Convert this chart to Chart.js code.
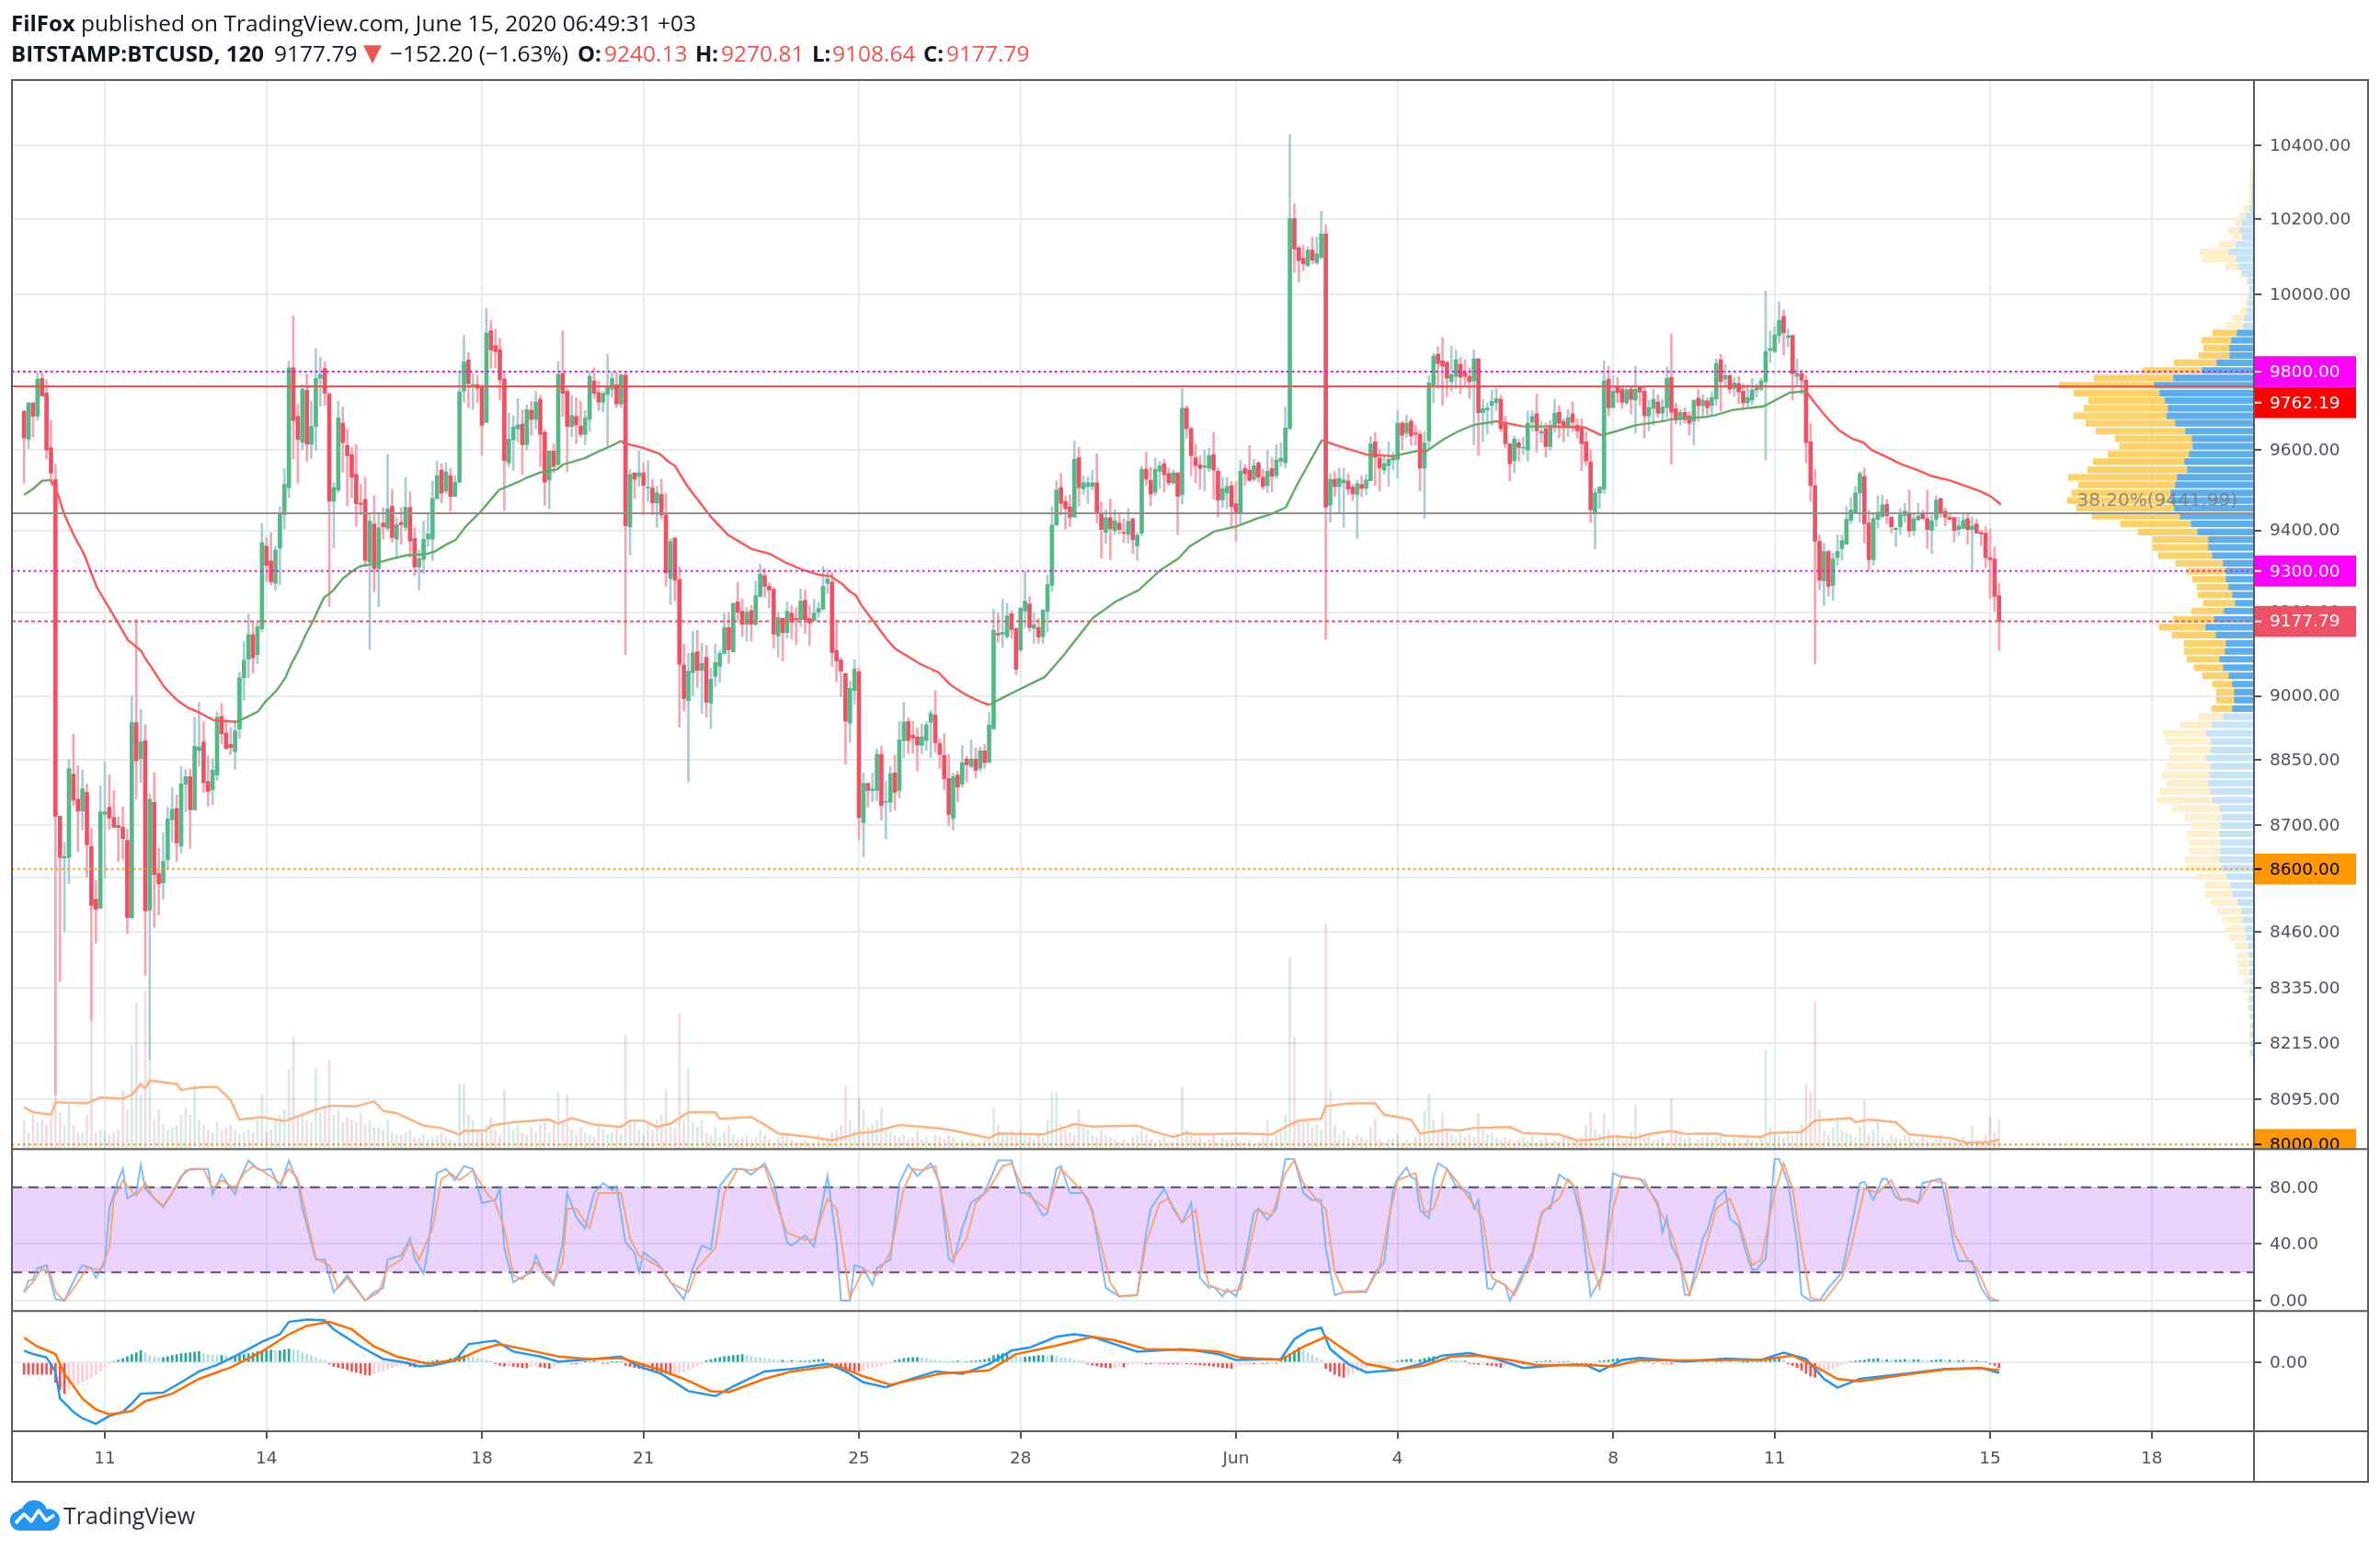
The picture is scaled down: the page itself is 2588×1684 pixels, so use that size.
<!DOCTYPE html>
<html><head><meta charset="utf-8">
<style>
html,body{margin:0;padding:0;background:#fff;width:2588px;height:1684px;overflow:hidden}
#c{position:absolute;left:0;top:0}
.t{position:absolute;font-family:"Open Sans",sans-serif;font-size:24.5px;color:#131722;white-space:nowrap;line-height:28px}
.b{font-weight:700;font-size:24px}.r{color:#ef5350}
</style></head><body>
<canvas id="c" width="2588" height="1684"></canvas>
<div class="t" style="left:12px;top:11px"><span class="b">FilFox</span> published on TradingView.com, June 15, 2020 06:49:31 +03</div>
<div class="t b" style="left:12px;top:44px">BITSTAMP:BTCUSD, 120</div>
<div class="t" style="left:298px;top:44px">9177.79</div>
<div class="t r" style="left:395px;top:43px;font-size:26px;font-family:'DejaVu Sans'">▼</div>
<div class="t" style="left:424px;top:44px">−152.20 (−1.63%)</div>
<div class="t b" style="left:628px;top:44px">O:</div><div class="t r" style="left:657px;top:44px">9240.13</div>
<div class="t b" style="left:756px;top:44px">H:</div><div class="t r" style="left:784px;top:44px">9270.81</div>
<div class="t b" style="left:883px;top:44px">L:</div><div class="t r" style="left:905px;top:44px">9108.64</div>
<div class="t b" style="left:1004px;top:44px">C:</div><div class="t r" style="left:1029px;top:44px">9177.79</div>
<svg style="position:absolute;left:11px;top:1631px" width="54" height="33" viewBox="0 0 54 33"><path fill="#2196f3" d="M11 33C4 33 0 28 0 22c0-5 3-9 8-10 1-2 3-3 5-3 2-5 7-9 13-9 7 0 12 4 14 10 2-1 4-1 5 0 5 1 9 6 9 11 0 7-5 12-11 12z"/><path fill="none" stroke="#fff" stroke-width="3.5" stroke-linejoin="round" d="M6 25l9-10 8 8 8-12 8 11 9-6"/></svg>
<div class="t" style="left:69px;top:1633px;font-size:25px;color:#2a2e39">TradingView</div>
<script src="https://cdn.jsdelivr.net/npm/chart.js@4/dist/chart.umd.min.js"></script>
<script>
const opens=[9698,9628,9720,9686,9783,9745,9606,9526,8720,8625,
8626,8817,8759,8732,8775,8651,8532,8512,8724,8741,
8717,8699,8695,8665,8491,8937,8853,8895,8508,8752,
8590,8569,8621,8712,8738,8652,8794,8811,8735,8872,
8892,8800,8781,8815,8952,8913,8886,8869,8922,9043,
9087,9146,9098,9160,9361,9325,9270,9356,9439,9506,
9810,9686,9620,9752,9615,9660,9783,9808,9743,9472,
9500,9668,9612,9589,9539,9468,9477,9321,9416,9306,
9418,9405,9460,9378,9420,9407,9457,9380,9310,9328,
9378,9378,9479,9550,9498,9536,9484,9520,9750,9830,
9762,9767,9762,9670,9906,9867,9857,9781,9568,9626,
9654,9666,9614,9701,9678,9729,9645,9525,9598,9564,
9795,9750,9660,9685,9661,9640,9678,9776,9746,9722,
9741,9755,9766,9717,9791,9409,9543,9534,9543,9505,
9505,9468,9489,9438,9282,9381,9279,9073,8989,9055,
9105,9061,9092,8983,9046,9070,9101,9163,9105,9225,
9202,9171,9204,9171,9238,9289,9263,9256,9143,9185,
9151,9198,9185,9182,9229,9185,9180,9200,9207,9270,
9273,9108,9085,9053,8936,9013,9057,8706,8796,8779,
8779,8863,8752,8752,8820,8779,8895,8940,8908,8904,
8884,8895,8938,8955,8888,8861,8807,8715,8815,8794,
8852,8835,8852,8831,8871,8844,8923,9149,9147,9141,
9196,9161,9109,9203,9220,9161,9163,9141,9202,9265,
9413,9506,9472,9458,9433,9581,9503,9509,9509,9518,
9440,9395,9431,9399,9418,9395,9390,9429,9362,9393,
9552,9524,9495,9547,9566,9541,9518,9543,9488,9706,
9654,9581,9563,9557,9554,9589,9547,9475,9493,9511,
9466,9442,9554,9550,9527,9568,9532,9511,9554,9536,
9572,9568,9654,10202,10124,10096,10077,10118,10084,10098,
10161,9462,9527,9509,9518,9523,9507,9489,9514,9504,
9523,9621,9580,9550,9561,9575,9577,9668,9643,9673,
9644,9640,9555,9623,9764,9845,9828,9824,9774,9788,
9819,9798,9788,9776,9833,9695,9702,9713,9720,9729,
9666,9616,9573,9619,9605,9600,9671,9692,9643,9654,
9609,9659,9696,9673,9659,9692,9663,9654,9621,9570,
9442,9493,9502,9781,9708,9762,9755,9720,9755,9727,
9762,9750,9687,9706,9722,9694,9708,9785,9705,9684,
9696,9687,9673,9732,9713,9725,9713,9730,9831,9781,
9790,9757,9769,9750,9720,9727,9753,9755,9774,9855,
9852,9893,9943,9888,9893,9788,9795,9778,9621,9511,
9373,9276,9348,9265,9333,9355,9366,9425,9445,9493,
9534,9418,9328,9427,9434,9465,9433,9402,9409,9436,
9440,9400,9426,9440,9429,9400,9427,9479,9447,9432,
9432,9402,9405,9429,9402,9416,9395,9393,9333,9330,
9240.13];
const highs=[9702,9720,9722,9799,9796,9779,9675,9565,8720,8661,
8851,8911,8837,8826,8795,8692,8574,8790,8846,8815,
8779,8719,8742,8692,8999,9183,8968,8933,8772,8821,
8648,8683,8740,8785,8769,8835,8828,8829,8950,8984,
8939,8860,8853,8963,8982,8945,8926,8941,9056,9129,
9195,9176,9176,9417,9382,9395,9361,9458,9554,9827,
9945,9716,9767,9793,9725,9860,9838,9826,9743,9519,
9725,9710,9654,9608,9614,9516,9532,9441,9486,9441,
9457,9589,9502,9432,9457,9532,9495,9407,9351,9423,
9440,9523,9573,9566,9568,9554,9536,9798,9894,9849,
9795,9791,9767,9965,9933,9910,9886,9798,9694,9687,
9731,9703,9715,9724,9750,9739,9652,9598,9616,9826,
9905,9757,9739,9734,9724,9701,9800,9810,9776,9750,
9845,9798,9798,9795,9800,9552,9543,9598,9568,9573,
9527,9509,9527,9491,9380,9381,9311,9123,9101,9154,
9156,9125,9121,9066,9123,9108,9198,9200,9222,9273,
9231,9211,9216,9276,9317,9307,9272,9260,9200,9187,
9225,9216,9211,9256,9254,9216,9231,9225,9311,9304,
9296,9182,9092,9053,9035,9086,9066,8820,8796,8820,
8876,8882,8801,8835,8861,8940,8985,8949,8940,8925,
8934,8940,8966,9013,8899,8912,8863,8820,8824,8884,
8859,8897,8878,8880,8886,8961,9207,9198,9231,9222,
9204,9161,9210,9299,9238,9199,9185,9207,9290,9458,
9523,9541,9486,9488,9623,9609,9536,9534,9550,9591,
9470,9451,9478,9451,9440,9429,9454,9429,9393,9559,
9595,9557,9580,9572,9577,9555,9550,9543,9757,9713,
9659,9616,9586,9600,9605,9645,9557,9532,9532,9521,
9521,9575,9563,9612,9577,9572,9552,9600,9581,9614,
9618,9710,10430,10242,10129,10131,10128,10153,10153,10222,
10185,9541,9546,9555,9555,9541,9514,9525,9536,9539,
9635,9645,9600,9584,9621,9595,9701,9673,9689,9680,
9663,9649,9647,9790,9847,9864,9888,9826,9866,9855,
9836,9831,9810,9857,9833,9729,9720,9753,9757,9741,
9687,9616,9635,9628,9633,9699,9699,9743,9673,9668,
9675,9729,9713,9680,9703,9722,9680,9680,9647,9602,
9504,9509,9829,9814,9790,9786,9762,9762,9762,9814,
9764,9762,9727,9755,9741,9729,9812,9898,9719,9703,
9708,9698,9727,9755,9741,9734,9748,9833,9845,9819,
9793,9786,9788,9769,9767,9783,9769,9783,10010,9905,
9916,9981,9960,9912,9895,9833,9805,9790,9668,9552,
9389,9368,9350,9344,9389,9389,9459,9481,9509,9546,
9555,9450,9442,9486,9488,9477,9433,9407,9454,9467,
9500,9440,9467,9450,9500,9442,9486,9479,9456,9442,
9433,9433,9442,9440,9433,9427,9400,9409,9404,9360,
9270.81];
const lows=[9517,9604,9634,9676,9738,9578,9513,8105,8350,8460,
8567,8745,8640,8688,8582,8265,8434,8512,8580,8689,
8695,8617,8622,8455,8488,8759,8797,8363,8180,8469,
8497,8532,8598,8661,8617,8635,8730,8646,8735,8835,
8775,8744,8746,8802,8888,8874,8862,8828,8900,8990,
9043,9054,9076,9153,9274,9266,9253,9267,9403,9481,
9578,9517,9601,9573,9578,9599,9712,9713,9214,9357,
9494,9544,9460,9481,9410,9438,9311,9110,9249,9213,
9378,9398,9371,9329,9366,9400,9333,9289,9254,9293,
9360,9326,9477,9468,9491,9447,9484,9520,9722,9708,
9703,9720,9586,9670,9809,9810,9727,9449,9557,9548,
9621,9539,9600,9638,9654,9559,9462,9453,9543,9559,
9685,9545,9633,9616,9633,9614,9647,9731,9701,9696,
9611,9734,9708,9708,9098,9339,9479,9509,9438,9471,
9438,9407,9429,9263,9218,9229,8927,8964,8799,9000,
9020,8959,8949,8923,9022,9033,9101,9077,9105,9178,
9141,9130,9130,9167,9236,9236,9211,9114,9092,9083,
9138,9136,9123,9165,9149,9121,9178,9187,9207,9245,
9070,9033,8998,8841,8891,8981,8666,8627,8741,8754,
8756,8711,8668,8730,8734,8762,8856,8865,8865,8824,
8865,8872,8856,8867,8831,8781,8698,8688,8754,8787,
8799,8831,8809,8824,8831,8844,8921,9128,9116,9136,
9137,9050,9105,9163,9154,9125,9125,9125,9152,9250,
9413,9438,9404,9410,9433,9460,9489,9466,9500,9418,
9332,9368,9328,9390,9390,9370,9368,9343,9326,9386,
9511,9460,9486,9504,9495,9511,9514,9390,9465,9630,
9536,9518,9502,9498,9546,9477,9432,9456,9454,9409,
9373,9415,9511,9522,9522,9520,9502,9493,9495,9529,
9559,9554,9654,10058,10033,10063,10074,10082,10080,10094,
9135,9420,9484,9444,9407,9489,9473,9380,9484,9489,
9523,9511,9498,9539,9509,9550,9530,9600,9633,9612,
9612,9498,9429,9600,9720,9757,9713,9736,9750,9757,
9743,9762,9731,9614,9588,9621,9640,9663,9701,9647,
9607,9523,9543,9573,9589,9573,9647,9595,9619,9582,
9600,9645,9631,9621,9635,9647,9631,9548,9561,9420,
9354,9454,9491,9687,9708,9720,9706,9715,9692,9643,
9715,9630,9649,9663,9682,9673,9682,9564,9666,9663,
9668,9638,9614,9673,9682,9689,9689,9713,9699,9760,
9743,9736,9718,9703,9710,9715,9734,9750,9575,9824,
9848,9873,9843,9864,9727,9764,9741,9568,9472,9077,
9254,9216,9238,9229,9313,9327,9366,9416,9442,9420,
9368,9300,9314,9405,9432,9416,9393,9360,9389,9420,
9384,9387,9424,9429,9355,9344,9409,9432,9411,9427,
9371,9387,9404,9366,9304,9393,9362,9309,9234,9202,
9108.64];
const closes=[9631,9720,9686,9781,9738,9600,9542,8720,8626,8628,
8830,8757,8732,8783,8655,8518,8510,8730,8730,8716,
8695,8694,8669,8491,8937,8848,8892,8506,8759,8588,
8567,8617,8714,8736,8659,8794,8811,8735,8882,8880,
8797,8777,8826,8950,8911,8877,8879,8918,9043,9085,
9146,9091,9165,9370,9314,9274,9352,9440,9514,9810,
9675,9627,9755,9615,9660,9783,9793,9745,9472,9506,
9682,9619,9586,9532,9466,9464,9326,9423,9306,9407,
9409,9453,9382,9414,9414,9457,9373,9310,9330,9378,
9391,9479,9536,9493,9545,9484,9520,9748,9825,9769,
9767,9757,9663,9900,9856,9852,9779,9574,9628,9659,
9664,9614,9703,9678,9722,9640,9520,9598,9559,9793,
9744,9660,9688,9664,9640,9682,9788,9744,9722,9744,
9762,9783,9717,9791,9411,9539,9527,9543,9511,9507,
9468,9493,9438,9296,9373,9278,9075,8994,9059,9103,
9061,9077,8985,9040,9079,9101,9163,9110,9222,9200,
9171,9200,9171,9240,9293,9263,9254,9147,9187,9151,
9202,9176,9182,9227,9182,9174,9198,9209,9263,9281,
9103,9083,9059,8940,9018,9064,8717,8796,8779,8783,
8863,8745,8754,8818,8775,8897,8938,8895,8901,8884,
8904,8931,8959,8890,8863,8807,8724,8811,8787,8843,
8839,8852,8826,8871,8844,8931,9156,9145,9152,9191,
9158,9063,9210,9227,9163,9170,9140,9205,9267,9413,
9500,9467,9454,9432,9577,9506,9518,9518,9518,9444,
9402,9431,9404,9424,9402,9393,9422,9377,9388,9552,
9527,9490,9552,9561,9538,9518,9543,9484,9706,9654,
9586,9561,9554,9561,9586,9550,9475,9504,9509,9459,
9442,9547,9541,9524,9561,9532,9509,9547,9534,9575,
9580,9656,10202,10121,10090,10082,10118,10091,10108,10161,
9457,9527,9509,9529,9525,9502,9491,9516,9504,9525,
9616,9582,9555,9566,9577,9582,9668,9638,9668,9636,
9640,9555,9619,9771,9840,9821,9814,9783,9793,9831,
9786,9788,9774,9833,9695,9705,9707,9724,9731,9654,
9616,9566,9628,9607,9607,9668,9685,9649,9647,9609,
9663,9694,9668,9659,9682,9671,9649,9616,9573,9451,
9493,9507,9776,9708,9750,9746,9722,9753,9729,9755,
9748,9687,9708,9729,9694,9710,9783,9696,9677,9696,
9677,9668,9727,9713,9727,9708,9734,9821,9774,9790,
9755,9771,9748,9720,9734,9753,9762,9776,9852,9860,
9895,9933,9900,9893,9795,9795,9778,9619,9511,9373,
9278,9348,9263,9330,9348,9375,9427,9450,9493,9541,
9416,9328,9429,9445,9463,9436,9409,9405,9438,9447,
9398,9429,9435,9429,9402,9424,9475,9445,9432,9427,
9400,9411,9425,9402,9411,9393,9391,9333,9328,9238,
9177.79];
const volumes=[60,35,70,55,60,50,65,120,75,50,
95,50,35,35,70,261,35,40,35,30,
35,40,120,80,211,296,110,321,186,60,
80,50,40,45,50,70,85,70,131,60,
50,40,35,55,40,45,50,40,30,35,
40,35,60,111,35,40,60,70,80,161,
229,70,75,60,55,164,75,85,181,70,
80,55,65,60,55,75,50,60,45,45,
40,60,35,30,30,35,40,25,25,30,
20,25,30,35,25,20,15,133,133,70,
60,40,35,50,65,40,30,121,50,40,
50,35,30,45,35,50,55,35,60,116,
60,111,40,30,45,35,30,25,50,40,
30,35,45,30,231,60,55,40,30,50,
40,60,70,121,55,45,276,60,164,55,
45,60,35,30,45,25,35,50,30,20,
25,30,20,25,40,30,20,15,25,30,
35,20,15,15,20,15,15,30,25,20,
35,40,50,128,60,40,104,80,45,50,
60,84,40,35,30,25,30,20,25,40,
20,25,15,30,25,20,30,25,15,20,
15,20,10,15,20,25,84,50,30,35,
40,30,40,30,25,20,30,25,60,114,
114,50,40,35,30,81,50,40,30,25,
40,30,25,20,15,20,15,25,30,40,
30,20,15,20,25,15,15,30,126,40,
30,20,25,15,20,30,15,25,20,20,
25,15,15,20,10,15,25,61,20,30,
40,70,389,228,60,55,60,45,50,40,
456,121,50,30,40,25,20,30,25,20,
46,61,20,15,20,25,30,15,20,15,
25,30,79,113,60,40,76,40,30,25,
35,25,30,25,74,40,30,35,25,20,
25,20,15,20,25,20,30,15,20,25,
15,20,15,25,30,15,20,25,50,76,
40,30,74,40,25,30,20,25,35,91,
35,25,30,20,20,25,15,104,40,30,
20,25,15,20,25,30,20,25,35,20,
15,25,20,15,25,20,15,30,201,45,
35,30,25,40,30,35,50,131,116,301,
80,40,30,45,60,40,35,30,25,45,
101,30,40,55,25,20,30,25,20,30,
25,20,15,25,20,15,20,30,15,20,
15,20,25,15,49,20,15,30,66,35,
61];
const macdHist=[-24,-24,-24,-24,-24,-24,-24,-40,-55,-63,
-55,-48,-45,-40,-35,-30,-25,-18,-10,-4,
2,5,8,12,16,20,24,20,14,12,
10,10,12,14,16,18,19,20,21,22,
18,16,15,14,14,13,11,12,14,16,
18,20,22,24,25,25,24,24,26,27,
26,24,20,17,14,10,7,5,-3,-8,
-10,-12,-15,-18,-20,-22,-25,-26,-23,-20,
-17,-14,-11,-8,-6,-5,-8,-9,-4,1,
2,3,5,3,4,8,10,13,14,12,
10,8,6,4,3,-3,-6,-8,-7,-8,
-9,-10,-11,-8,-6,-9,-10,-12,-7,-3,
-2,2,-2,-3,-2,1,2,3,2,-1,
-1,1,1,2,-6,-8,-10,-12,-14,-13,
-16,-18,-20,-22,-25,-22,-20,-18,-14,-10,
-6,-3,4,6,8,10,12,13,14,15,
16,14,12,10,9,8,7,6,5,5,
4,4,3,3,3,3,5,6,7,-2,
-5,-8,-10,-12,-15,-17,-18,-16,-12,-10,
-8,-6,-4,-2,4,6,8,9,10,10,
9,8,6,5,4,3,2,2,3,2,
2,3,3,4,6,8,14,16,18,19,
17,12,10,11,12,13,14,14,13,14,
13,10,9,8,6,4,3,-3,-5,-7,
-9,-10,-11,-10,-8,-9,-5,-4,-3,-2,
-3,-3,-2,-2,-2,-3,-3,-3,-2,-3,
-3,-4,-5,-6,-7,-8,-9,-10,-11,-12,
-8,-6,-4,-3,-3,-2,-2,-2,-1,-1,
8,13,18,24,30,25,20,15,10,5,
-12,-18,-24,-28,-30,-26,-22,-18,-14,-10,
-8,-6,-4,-3,-2,-1,3,5,6,7,
4,6,8,10,12,10,8,7,5,4,
3,3,-2,-3,-4,-3,-5,-6,-8,-10,
-6,-5,-4,-3,-3,-2,-1,1,2,3,
3,2,2,2,2,-3,-5,-6,-8,-8,
-5,3,4,5,7,8,6,5,4,4,
2,3,3,-2,2,-2,-2,-3,-2,-1,
2,3,3,2,3,4,3,4,4,3,
3,2,1,1,1,2,2,3,5,7,
8,8,6,-3,-6,-10,-16,-22,-28,-30,
-25,-20,-16,-12,-8,-5,-2,2,3,4,
5,7,7,8,6,6,5,5,5,6,
5,6,6,5,4,4,5,6,5,5,
4,4,4,3,3,3,2,2,-3,-6,
-10];
const maGreenSegments=[
[[1,9488],[3,9503],[5,9523],[7,9525]],
[[48.3,8939],[50.4,8949],[53.1,8963],[54.8,8987],[57.2,9012],[59.2,9043],[60.6,9077],[62.3,9111],[63.7,9145],[65.4,9180],[67.8,9235],[69.8,9252],[72.1,9283],[74.7,9304],[76,9312],[79.2,9318],[82.2,9328],[86.3,9339],[90.4,9341],[92.5,9348],[95.2,9366],[97.1,9376],[99.6,9412],[102.7,9446],[106.8,9500],[110.9,9519],[113,9531],[116,9544],[119.8,9552],[121.1,9564],[125.9,9580],[128.3,9593],[132.8,9616],[134.1,9624]],
[[216,8979],[220,9001],[221.7,9010],[228.4,9045],[232.7,9098],[239.1,9186],[244.2,9226],[249.4,9254],[254.1,9302],[258.2,9331],[260.6,9360],[266.1,9397],[271.2,9410],[275.6,9429],[279,9441],[282.1,9457],[284.5,9511],[290.1,9625]],
[[306,9585],[311.4,9598]],
[[313.5,9598],[317.2,9627],[320.6,9648],[324,9664],[329.2,9673]],
[[335,9660],[340,9660]],
[[352.4,9638],[355.8,9648],[359.9,9663],[366.4,9674],[368,9678],[375.5,9684],[377.6,9688],[381.7,9702],[388.5,9711],[391.2,9727],[394.3,9746],[398,9750]]];
const maRedSegments=[
[[7,9525],[8.4,9494],[10,9438],[12,9390],[14.5,9338],[15.7,9303],[17.2,9261],[18.6,9235],[21.3,9186],[22.8,9158],[24.2,9132],[27.1,9107],[28.2,9086],[29.5,9066],[32.1,9023],[33.6,9006],[35.3,8988],[37.7,8971],[39.8,8962],[43.2,8943],[48.3,8939]],
[[134.1,9624],[134.5,9618],[138.9,9606],[142.6,9591],[144.4,9572],[146,9561],[148.7,9511],[152.1,9461],[154.5,9427],[157.9,9388],[163.1,9354],[167.2,9342],[170.6,9321],[174.7,9302],[178.1,9291],[180.8,9287],[183.2,9269],[184.9,9251],[186.3,9241],[187.6,9216],[190.4,9176],[193.1,9136],[195.1,9112],[200.6,9076],[204.7,9056],[207.4,9026],[210.8,9003],[214.3,8985],[216,8979]],
[[290.1,9625],[294,9610],[300.1,9589],[306,9585]],
[[311.4,9598],[313.5,9598]],
[[329.2,9673],[335,9660]],
[[340,9660],[348.6,9658],[352.4,9638]],
[[398,9750],[400,9719],[402.8,9680],[405.5,9649],[408.3,9629],[410.7,9620],[412.7,9600],[415.8,9584],[419.2,9565],[422.6,9551],[426,9535],[430.1,9524],[432.8,9513],[436.9,9497],[439.3,9483],[441.4,9464]]];
const volumeAverage=[[1,86],[3,76],[7,71],[8,96],[15,94],[18,106],[23,103],[25,111],[27,133],[28,124],[29,140],[35,133],[36,121],[38,124],[41,127],[44,127],[47,101],[49,61],[54,66],[59,58],[63,71],[66,81],[69,89],[75,88],[79,98],[81,79],[84,74],[90,49],[94,44],[98,31],[99,38],[104,39],[105,49],[110,56],[118,61],[120,53],[123,64],[128,51],[134,46],[136,59],[139,59],[142,46],[145,53],[149,76],[155,76],[156,63],[163,66],[166,51],[169,33],[176,26],[181,19],[187,34],[190,36],[196,50],[204,44],[208,39],[216,24],[218,33],[228,31],[235,52],[239,47],[249,49],[253,36],[257,26],[260,34],[262,31],[272,33],[279,31],[283,51],[285,59],[290,63],[291,88],[296,94],[302,94],[304,71],[310,61],[312,33],[318,41],[321,39],[324,44],[332,46],[335,34],[343,31],[347,19],[351,21],[355,28],[360,24],[363,32],[368,38],[371,32],[378,33],[380,29],[388,26],[390,34],[397,36],[400,59],[408,64],[409,56],[412,61],[418,56],[421,31],[430,24],[434,14],[439,16],[441,21]];
const stochK=[[1,6],[2,14],[3,15],[4,23],[6,25],[7,13],[8,1],[10,0],[11,7],[13,20],[14,25],[16,23],[17,16],[19,27],[20,65],[22,85],[23,93],[24,72],[26,76],[27,96],[28,79],[31,69],[32,66],[34,76],[36,88],[38,93],[42,93],[43,75],[45,89],[48,75],[49,85],[51,99],[53,93],[54,92],[56,93],[58,79],[60,99],[62,83],[63,65],[65,41],[66,29],[68,29],[70,6],[73,18],[75,9],[77,0],[79,6],[81,9],[82,29],[85,32],[87,44],[88,30],[90,19],[91,37],[93,90],[95,93],[97,85],[99,95],[101,93],[103,69],[106,71],[107,79],[108,37],[110,13],[111,15],[114,20],[115,32],[117,18],[119,11],[121,41],[122,76],[124,59],[126,51],[128,76],[130,83],[132,78],[133,81],[135,41],[137,34],[138,20],[139,34],[142,27],[144,18],[146,9],[148,1],[150,23],[152,39],[154,36],[156,81],[159,93],[161,93],[163,89],[166,97],[168,83],[171,41],[172,39],[175,46],[177,38],[180,88],[182,41],[183,0],[185,0],[186,25],[188,23],[190,11],[191,23],[194,29],[196,83],[198,96],[200,88],[203,97],[205,83],[207,30],[208,27],[210,51],[212,69],[215,76],[218,99],[221,99],[223,76],[225,76],[228,60],[229,62],[231,93],[232,95],[234,76],[237,76],[239,64],[242,9],[245,3],[249,4],[251,48],[252,65],[255,79],[257,65],[259,55],[261,69],[262,41],[263,16],[265,9],[266,10],[268,3],[269,8],[271,3],[272,13],[275,62],[276,65],[278,57],[280,65],[282,100],[284,100],[286,76],[288,71],[290,71],[291,37],[293,4],[295,6],[300,6],[302,20],[304,27],[306,79],[307,86],[309,94],[310,87],[311,86],[312,64],[314,58],[315,86],[316,97],[318,93],[320,81],[323,76],[324,65],[325,71],[326,41],[327,9],[328,8],[329,14],[331,11],[332,0],[334,13],[337,34],[339,60],[340,65],[341,65],[343,89],[346,82],[348,58],[350,3],[353,20],[354,58],[355,90],[357,87],[361,86],[363,78],[365,69],[366,48],[367,59],[368,39],[370,27],[371,4],[372,4],[375,44],[376,50],[378,72],[380,78],[381,58],[383,53],[385,30],[386,22],[387,22],[389,30],[391,100],[392,100],[394,83],[396,41],[397,4],[399,0],[401,0],[403,9],[406,20],[408,51],[410,83],[411,84],[413,71],[415,86],[416,86],[418,73],[419,71],[421,72],[423,69],[424,83],[428,86],[429,72],[431,38],[432,28],[435,28],[437,9],[439,0],[441,0]];
const stochD=[[1,6],[3,13],[5,23],[7,18],[8,6],[10,0],[13,13],[15,23],[18,22],[20,37],[21,72],[23,85],[26,74],[28,83],[30,72],[32,67],[35,81],[37,92],[41,93],[43,79],[45,85],[48,79],[50,90],[52,95],[54,92],[58,83],[60,93],[62,86],[64,58],[66,30],[69,25],[71,9],[73,16],[77,0],[80,6],[82,23],[85,29],[87,41],[89,29],[92,51],[94,86],[96,90],[98,85],[101,92],[104,76],[106,69],[108,51],[110,18],[112,15],[115,27],[119,13],[121,27],[122,65],[124,65],[127,51],[129,76],[132,76],[134,76],[136,44],[138,32],[143,23],[145,13],[149,6],[151,23],[155,37],[157,76],[160,93],[163,92],[166,95],[169,65],[171,48],[175,43],[177,43],[180,72],[182,65],[185,2],[188,22],[191,18],[194,34],[197,79],[199,93],[201,92],[204,95],[206,65],[208,29],[211,44],[213,69],[216,79],[219,95],[221,97],[224,76],[227,69],[229,64],[232,93],[235,83],[238,72],[240,51],[243,13],[245,3],[249,4],[251,41],[254,69],[256,72],[259,55],[262,64],[264,23],[265,11],[269,6],[272,8],[274,37],[276,64],[279,60],[282,90],[284,99],[286,83],[289,71],[291,65],[293,20],[295,6],[300,7],[303,23],[305,58],[307,85],[311,90],[313,62],[315,65],[318,93],[321,81],[323,72],[326,58],[328,16],[331,11],[333,4],[337,30],[339,62],[343,72],[345,86],[347,78],[350,30],[352,9],[355,65],[357,88],[362,85],[366,60],[368,48],[370,27],[372,4],[375,30],[378,65],[381,72],[383,57],[386,25],[388,29],[391,76],[393,97],[395,79],[397,37],[399,2],[402,0],[406,16],[408,37],[411,79],[414,76],[417,85],[419,72],[423,69],[426,85],[429,83],[431,48],[434,29],[436,23],[439,2],[441,0]];
const macdLine=[[1,24],[3,17],[6,10],[8,-18],[9,-73],[12,-100],[14,-113],[17,-124],[20,-108],[23,-100],[25,-83],[27,-63],[32,-61],[36,-40],[40,-18],[44,-5],[50,22],[54,42],[58,57],[60,82],[64,87],[68,85],[70,67],[76,32],[81,7],[86,0],[89,-8],[92,-6],[97,4],[100,37],[104,42],[106,44],[110,22],[116,12],[120,2],[128,7],[134,12],[138,-8],[143,-23],[149,-58],[155,-68],[159,-48],[166,-18],[172,-13],[180,-3],[184,-18],[188,-40],[193,-50],[197,-38],[204,-18],[210,-23],[216,-3],[221,24],[225,30],[231,52],[235,57],[239,52],[249,22],[259,27],[262,24],[267,17],[271,5],[281,7],[284,47],[287,64],[290,70],[292,27],[296,-3],[300,-20],[307,-15],[312,-3],[317,14],[323,19],[329,7],[335,-11],[343,-5],[349,-5],[352,-18],[357,5],[361,9],[371,2],[380,8],[388,5],[393,20],[398,7],[402,-33],[405,-51],[410,-33],[420,-23],[429,-13],[437,-11],[441,-21]];
const macdSignal=[[1,50],[4,32],[8,17],[10,-23],[14,-73],[17,-95],[20,-105],[25,-98],[28,-78],[34,-63],[40,-33],[47,-10],[54,22],[60,57],[64,74],[69,82],[74,67],[79,32],[84,12],[91,-3],[98,7],[103,27],[107,37],[115,22],[120,12],[127,7],[134,9],[142,-13],[148,-33],[154,-58],[158,-60],[166,-33],[172,-18],[182,-6],[188,-28],[194,-45],[205,-23],[216,-16],[222,17],[230,32],[239,52],[244,45],[251,27],[262,25],[267,22],[272,10],[281,5],[286,32],[291,52],[295,27],[300,-3],[307,-15],[313,-6],[319,12],[325,14],[332,5],[338,-5],[350,-5],[355,-8],[361,5],[371,4],[380,5],[388,5],[395,14],[399,-3],[405,-33],[410,-38],[419,-26],[429,-14],[437,-11],[441,-16]];
const vpPrices=[10423,10403,10384,10365,10345,10326,10307,10288,10268,10249,10229,10210,10191,10171,10152,10133,10113,10094,10074,10055,10036,10016,9997,9978,9958,9939,9919,9900,9881,9861,9842,9823,9803,9784,9765,9745,9726,9706,9687,9668,9648,9629,9610,9590,9571,9551,9532,9513,9493,9474,9455,9435,9416,9396,9377,9358,9338,9319,9300,9280,9261,9242,9222,9203,9183,9164,9145,9125,9106,9087,9067,9048,9028,9009,8990,8970,8951,8932,8912,8893,8873,8854,8835,8815,8796,8777,8757,8738,8718,8699,8680,8660,8641,8621,8602,8583,8563,8544,8525,8505,8486,8466,8447,8428,8408,8389,8370,8350,8331,8312,8292,8273,8253,8234,8215,8195,8176,8157,8137];
const vpTotal=[1,1,2,2,3,4,4,5,5,5,11,16,21,29,23,38,59,56,31,15,9,6,8,10,15,24,30,45,57,55,60,87,121,174,212,196,180,185,196,183,172,151,146,159,175,181,202,191,198,203,193,176,145,126,110,110,104,85,73,67,62,61,55,68,88,103,89,76,76,73,65,56,45,41,41,46,60,80,99,96,91,92,95,100,95,103,105,89,75,68,73,70,70,75,76,63,54,53,47,40,34,31,27,21,18,17,16,10,10,7,7,6,5,5,5,5,2,1,1];
const vpBuy=[1,1,1,1,1,2,2,3,3,3,5,9,13,16,13,20,28,20,17,13,7,5,6,7,8,11,12,19,25,27,27,41,57,88,109,103,97,94,95,86,75,68,67,71,76,73,84,86,91,91,87,81,69,62,50,50,46,34,31,31,28,24,21,33,44,53,42,31,32,38,34,28,24,22,22,24,34,46,53,47,47,52,48,49,50,48,45,38,35,37,38,37,37,38,35,30,26,24,18,14,12,10,9,7,6,5,5,5,5,5,5,4,4,4,4,4,0,0,0];
const priceTicks=[10400,10200,10000,9800,9600,9400,9200,9000,8850,8700,8580,8460,8335,8215,8095];
const stochTicks=[80,40,0];
const macdTicks=[0];
const timeTickBars=[19,55,103,139,187,223,271,307,355,391,439,475];
const timeTickLabels=['11','14','18','21','25','28','Jun','4','8','11','15','18'];
const valueAreaHigh=9900, valueAreaLow=8970;
const priceLevels={mag1:9800,red:9762.19,fib:9441.99,mag2:9300,last:9177.79,org1:8600,org2:8000};

const UP='#53b987',DOWN='#ef5064',UPW='#a9cdd3',DOWNW='#f5a6b0',GRID='#e3ecf2',AXIS='#4c525e',FONT='"DejaVu Sans"';
const xMin=-1.7,xMax=497.8;
const bars=opens.map((_,i)=>i+1);
const isUp=i=>closes[i]>=opens[i];
const pts=a=>a.map(([x,y])=>({x,y}));
const hline=(y,color,dash,id,w,order)=>({type:'line',data:[{x:xMin,y},{x:xMax,y}],yAxisID:id||'yPrice',xAxisID:'x',borderColor:color,borderWidth:w||2,borderDash:dash||[],pointRadius:0,order:order||40});
const line=(data,color,id,w,order)=>({type:'line',data,yAxisID:id,xAxisID:'x',borderColor:color,borderWidth:w,pointRadius:0,tension:0,order});
const ds=[];
ds.push({type:'line',data:[{x:xMin,y:80},{x:xMax,y:80}],yAxisID:'yStoch',xAxisID:'x',borderColor:AXIS,borderWidth:2,borderDash:[11,7],pointRadius:0,fill:{value:20},backgroundColor:'rgba(150,40,245,.2)',order:100});
ds.push(hline(20,'#6b4a82',[11,7],'yStoch',2,99));
ds.push({type:'bar',grouped:false,data:bars.map((x,i)=>({x,y:volumes[i]})),yAxisID:'yVol',xAxisID:'x',barThickness:2,backgroundColor:bars.map((_,i)=>isUp(i)?'rgba(55,155,105,.2)':'rgba(180,80,105,.2)'),order:90});
ds.push(line(pts(volumeAverage),'#fdb27f','yVol',2.5,85));
ds.push({type:'bar',grouped:false,indexAxis:'y',data:vpPrices.map((y,i)=>({x:[0,vpBuy[i]],y})),xAxisID:'xVP',yAxisID:'yPrice',barThickness:6.5,backgroundColor:vpPrices.map(p=>p<=valueAreaHigh&&p>=valueAreaLow?'#5daeec':'#c5e2f7'),order:80});
ds.push({type:'bar',grouped:false,indexAxis:'y',data:vpPrices.map((y,i)=>({x:[vpBuy[i],vpTotal[i]],y})),xAxisID:'xVP',yAxisID:'yPrice',barThickness:6.5,backgroundColor:vpPrices.map(p=>p<=valueAreaHigh&&p>=valueAreaLow?'#fcd268':'#feefcc'),order:79});
ds.push({type:'bar',grouped:false,data:bars.map((x,i)=>({x,y:[lows[i],highs[i]]})),yAxisID:'yPrice',xAxisID:'x',barThickness:2,backgroundColor:bars.map((_,i)=>isUp(i)?UPW:DOWNW),order:70});
ds.push({type:'bar',grouped:false,data:bars.map((x,i)=>({x,y:[opens[i],closes[i]]})),yAxisID:'yPrice',xAxisID:'x',barThickness:4,backgroundColor:bars.map((_,i)=>isUp(i)?UP:DOWN),order:60});
maGreenSegments.forEach(s=>ds.push(line(pts(s),'#62ab66','yPrice',2.4,50)));
maRedSegments.forEach(s=>ds.push(line(pts(s),'#ff5555','yPrice',2.4,50)));
ds.push(hline(priceLevels.mag1,'#ff00ff',[2.5,3.5]));
ds.push(hline(priceLevels.red,'#ff4d4d',[]));
ds.push(hline(priceLevels.fib,'#8f8f8f',[]));
ds.push(hline(priceLevels.mag2,'#ff00ff',[2.5,3.5]));
ds.push(hline(priceLevels.last,'#ef5064',[4,3]));
ds.push(hline(priceLevels.org1,'#ff9800',[2.5,3.5]));
ds.push(hline(priceLevels.org2,'#ff9800',[2.5,3.5]));
ds.push(line(pts(stochK),'rgba(110,175,250,.85)','yStoch',2,31));
ds.push(line(pts(stochD),'rgba(250,160,110,.9)','yStoch',2,30));
ds.push({type:'bar',grouped:false,data:bars.map((x,i)=>({x,y:macdHist[i]})),yAxisID:'yMacd',xAxisID:'x',barThickness:2,
 backgroundColor:bars.map((_,i)=>{const v=macdHist[i],p=i?macdHist[i-1]:v;return v>=0?(v>=p?'#26a69a':'#b2dfdb'):(v<=p?'#ef5350':'#ffcdd2');}),order:35});
ds.push(line(pts(macdLine),'#2196f3','yMacd',2.5,29));
ds.push(line(pts(macdSignal),'#ff6d00','yMacd',2.5,28));

const tick={font:{family:FONT,size:18.5},color:AXIS,padding:9,labelOffset:1,autoSkip:false,maxRotation:0,minRotation:0};
const grid={color:GRID,lineWidth:2,tickColor:AXIS,tickWidth:2,tickLength:8,offset:false,drawTicks:true};
const axisW=s=>{s.width=124;};
const fix=(list)=>({afterBuildTicks(s){s.ticks=list.map(v=>({value:v}));},afterFit:axisW,ticks:{...tick,callback:v=>Number(v).toFixed(2)}});
const tags=[
 {v:priceLevels.mag1,t:'9800.00',bg:'#ff00ff',fg:'#fff',dy:0},
 {v:priceLevels.red,t:'9762.19',bg:'#ff0000',fg:'#fff',dy:17.7},
 {v:priceLevels.mag2,t:'9300.00',bg:'#ff00ff',fg:'#fff',dy:0},
 {v:priceLevels.last,t:'9177.79',bg:'#ef5064',fg:'#fff',dy:0},
 {v:priceLevels.org1,t:'8600.00',bg:'#ff9800',fg:'#000',dy:0},
 {v:priceLevels.org2,t:'8000.00',bg:'#ff9800',fg:'#000',dy:0}];
const overlay={id:'overlay',afterDraw(c){
 const g=c.ctx,y=c.scales.yPrice,s=c.scales.yStoch,m=c.scales.yMacd,a=c.chartArea;
 g.save();
 g.textBaseline='middle';g.textAlign='right';
 g.font='20px '+FONT;
 g.fillStyle='rgba(125,125,125,.85)';
 g.fillText('38.20%(9441.99)',2433,545);
 g.textAlign='left';g.font='18.5px '+FONT;
 g.save();g.beginPath();g.rect(a.right,y.top,130,y.bottom-y.top);g.clip();
 tags.forEach(t=>{const py=y.getPixelForValue(t.v)+t.dy;
  g.fillStyle=t.bg;g.fillRect(a.right,py-16.8,111,33.6);
  g.fillStyle=t.fg;g.fillRect(a.right,py-1,8,2);
  g.fillText(t.t,2468,py+1);});
 g.restore();
 g.strokeStyle='#555a63';g.lineWidth=2;g.beginPath();
 g.moveTo(13,87);g.lineTo(2575,87);g.lineTo(2575,1611);g.lineTo(13,1611);g.closePath();
 g.moveTo(a.right,87);g.lineTo(a.right,1611);
 [y.bottom,s.bottom,m.bottom].forEach(b=>{g.moveTo(13,b);g.lineTo(2575,b);});
 g.stroke();g.restore();
}};
new Chart(document.getElementById('c'),{
 type:'line',data:{datasets:ds},plugins:[overlay],
 options:{responsive:false,animation:false,devicePixelRatio:1,
  layout:{padding:{left:13,top:87,right:13,bottom:73}},
  plugins:{legend:{display:false},tooltip:{enabled:false},title:{display:false}},
  events:[],
  scales:{
   x:{type:'linear',axis:'x',min:xMin,max:xMax,offset:false,position:'bottom',border:{display:false},grid,
     afterBuildTicks(s){s.ticks=timeTickBars.map(v=>({value:v}));},
     afterFit(s){s.height=55;},
     ticks:{...tick,labelOffset:0,padding:11,callback:v=>timeTickLabels[timeTickBars.indexOf(v)]}},
   xVP:{type:'linear',axis:'x',display:false,min:0,max:2438,reverse:true,offset:false,grid:{offset:false}},
   yPrice:{type:'logarithmic',axis:'y',position:'right',stack:'panes',stackWeight:1163,weight:1,min:7990,max:10580,offset:false,border:{display:false},grid,...fix(priceTicks)},
   yStoch:{type:'linear',axis:'y',position:'right',stack:'panes',stackWeight:176,weight:2,min:-7.3,max:106.9,offset:false,border:{display:false},grid,...fix(stochTicks)},
   yMacd:{type:'linear',axis:'y',position:'right',stack:'panes',stackWeight:130.8,weight:3,min:-139,max:104,offset:false,border:{display:false},grid,...fix(macdTicks)},
   yVol:{type:'linear',axis:'y',position:'right',display:false,min:-568.5,max:2161,offset:false,grid:{offset:false}}
  }}});
</script>
</body></html>
